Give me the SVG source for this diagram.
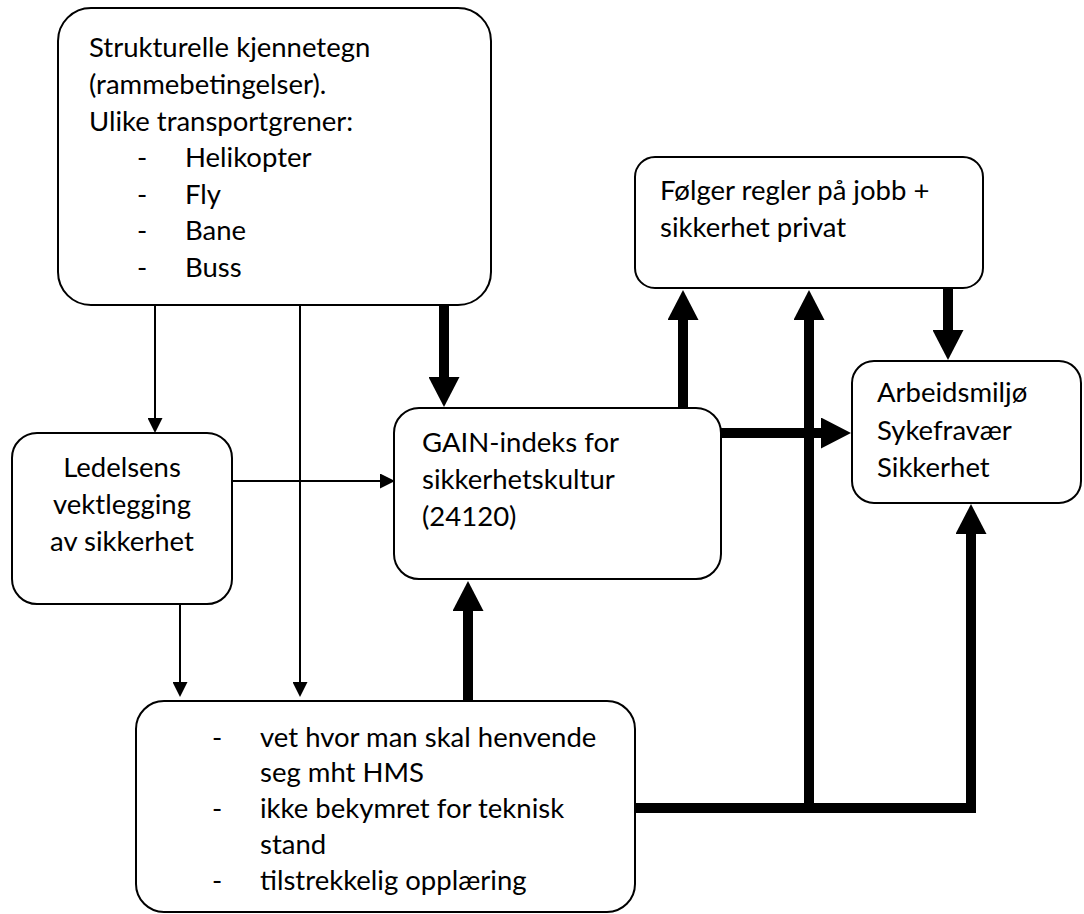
<svg xmlns="http://www.w3.org/2000/svg" width="1084" height="914" viewBox="0 0 1084 914">
  <style>
    .box { fill: #ffffff; stroke: #000000; stroke-width: 2; }
    .txt { font-family: Lato, "Liberation Sans", sans-serif; font-size: 27.5px; fill: #000000; }
    .mid { text-anchor: middle; }
    .thin { fill: none; stroke: #000000; stroke-width: 2; marker-end: url(#headThin); }
    .thick { fill: none; stroke: #000000; stroke-width: 10; stroke-linejoin: miter; marker-end: url(#headThick); }
  </style>
  <defs>
    <marker id="headThin" markerUnits="userSpaceOnUse" markerWidth="15" markerHeight="15" refX="0" refY="7.5" orient="auto" viewBox="0 0 15 15">
      <path d="M0,0 L15,7.5 L0,15 Z" fill="#000000"/>
    </marker>
    <marker id="headThick" markerUnits="userSpaceOnUse" markerWidth="30" markerHeight="31" refX="0" refY="15.5" orient="auto" viewBox="0 0 30 31">
      <path d="M0,0 L30,15.5 L0,31 Z" fill="#000000"/>
    </marker>
  </defs>

  <rect width="1084" height="914" fill="#ffffff"/>

  <!-- connectors: lines end at the base of each arrowhead -->
  <g id="connectors">
    <path class="thin" d="M155,305 V418"/>
    <path class="thin" d="M300,305 V682"/>
    <path class="thin" d="M232,481 H380"/>
    <path class="thin" d="M180,604 V682"/>
    <path class="thick" d="M444,305 V377"/>
    <path class="thick" d="M683,408 V320"/>
    <path class="thick" d="M948,288 V330"/>
    <path class="thick" d="M708,433 H821"/>
    <path class="thick" d="M468,701 V611"/>
    <path class="thick" d="M635,808 H971 V534"/>
    <path class="thick" d="M809,808 V320"/>
  </g>

  <g id="node-strukturelle">
    <rect class="box" x="58" y="8" width="433" height="297" rx="33"/>
    <text class="txt" x="89" y="57">Strukturelle kjennetegn</text>
    <text class="txt" x="89" y="94">(rammebetingelser).</text>
    <text class="txt" x="89" y="130.5">Ulike transportgrener:</text>
    <text class="txt" x="137" y="167">-</text>
    <text class="txt" x="185" y="167">Helikopter</text>
    <text class="txt" x="137" y="204">-</text>
    <text class="txt" x="185" y="204">Fly</text>
    <text class="txt" x="137" y="240">-</text>
    <text class="txt" x="185" y="240">Bane</text>
    <text class="txt" x="137" y="277">-</text>
    <text class="txt" x="185" y="277">Buss</text>
  </g>

  <g id="node-ledelsen">
    <rect class="box" x="12" y="433" width="220" height="171" rx="25"/>
    <text class="txt mid" x="122" y="477">Ledelsens</text>
    <text class="txt mid" x="122" y="514">vektlegging</text>
    <text class="txt mid" x="122" y="551">av sikkerhet</text>
  </g>

  <g id="node-gain">
    <rect class="box" x="394" y="408" width="327" height="171" rx="25"/>
    <text class="txt" x="422" y="452">GAIN-indeks for</text>
    <text class="txt" x="422" y="489">sikkerhetskultur</text>
    <text class="txt" x="422" y="526">(24120)</text>
  </g>

  <g id="node-regler">
    <rect class="box" x="635" y="157" width="348" height="131" rx="20"/>
    <text class="txt" x="660" y="200">Følger regler på jobb +</text>
    <text class="txt" x="660" y="237">sikkerhet privat</text>
  </g>

  <g id="node-utfall">
    <rect class="box" x="852" y="361" width="229" height="142" rx="22"/>
    <text class="txt" x="877" y="402">Arbeidsmiljø</text>
    <text class="txt" x="877" y="440">Sykefravær</text>
    <text class="txt" x="877" y="477">Sikkerhet</text>
  </g>

  <g id="node-hms">
    <rect class="box" x="136" y="701" width="499" height="211" rx="28"/>
    <text class="txt" x="212" y="747">-</text>
    <text class="txt" x="260" y="747">vet hvor man skal henvende</text>
    <text class="txt" x="260" y="782">seg mht HMS</text>
    <text class="txt" x="212" y="818">-</text>
    <text class="txt" x="260" y="818">ikke bekymret for teknisk</text>
    <text class="txt" x="260" y="854">stand</text>
    <text class="txt" x="212" y="890">-</text>
    <text class="txt" x="260" y="890">tilstrekkelig opplæring</text>
  </g>
</svg>
